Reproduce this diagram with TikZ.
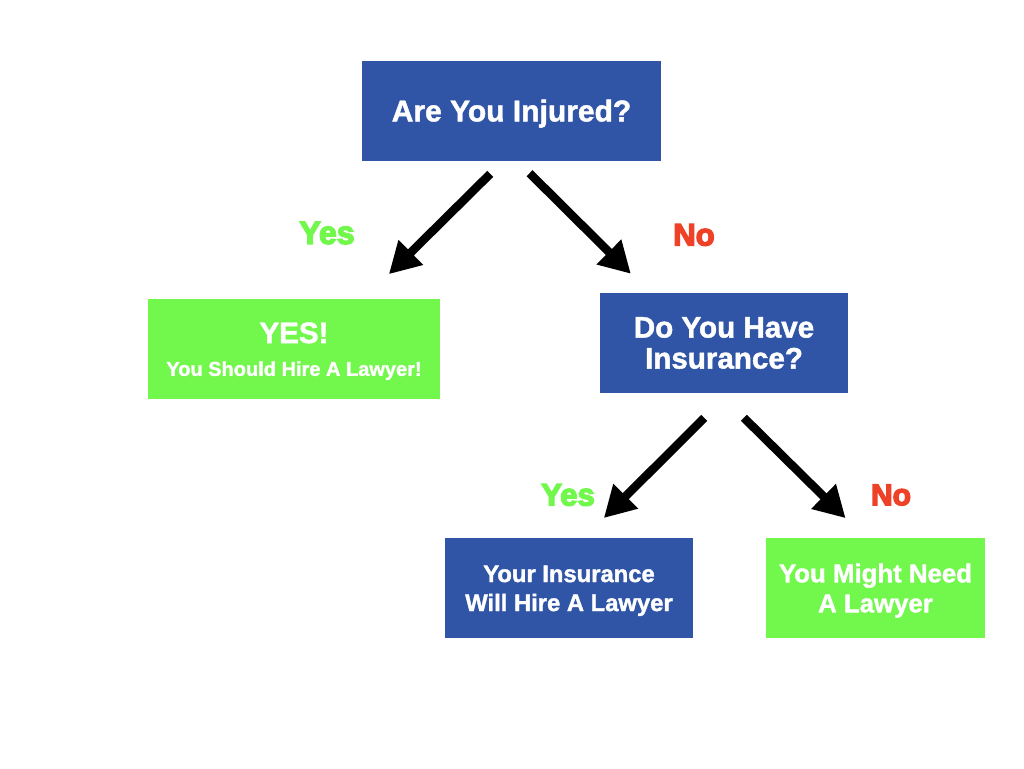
\documentclass[tikz,border=0pt]{standalone}
\usepackage{fontspec}
\setmainfont{Liberation Sans}
\newfontfamily\boxfont[FakeBold=1.5]{Liberation Sans Bold}
\newfontfamily\heavyfont[FakeBold=4.5]{Liberation Sans Bold}
\usetikzlibrary{arrows.meta}
\definecolor{askblue}{HTML}{3155A6}
\definecolor{hiregreen}{HTML}{72F74C}
\definecolor{nored}{HTML}{EE4128}
\tikzset{
  askbox/.style={rectangle,fill=askblue,text=white,align=center,inner sep=0pt},
  hirebox/.style={rectangle,fill=hiregreen,text=white,align=center,inner sep=0pt},
  yeslabel/.style={text=hiregreen,inner sep=0pt},
  nolabel/.style={text=nored,inner sep=0pt},
  flow/.style={line width=8.5pt,-{Triangle[length=31pt,width=33pt]},black}
}
\begin{document}
\begin{tikzpicture}[x=1pt,y=-1pt]

    \useasboundingbox (0,0) rectangle (1024,768);

    %%%%%%%%%%%%%%%%%%%%%%%%%%%%%%%%%%%%%%%%%%%%%%%%%%%%%%

    % first question
    \node[askbox,minimum width=299pt,minimum height=100pt,font=\boxfont\fontsize{30}{31}\selectfont] (injured) at (511.5,111) {\rule{0pt}{27pt}Are You Injured?};

    % first answers
    \node[hirebox,minimum width=292pt,minimum height=100pt] (hire) at (294,349) {{\boxfont\fontsize{29.5}{31}\selectfont\rule{0pt}{25pt}YES!}\\[17pt]{\boxfont\fontsize{20}{22}\selectfont You Should Hire A Lawyer!}};
    \node[askbox,minimum width=248pt,minimum height=100pt,font=\boxfont\fontsize{29.6}{31}\selectfont] (insurance) at (724,343) {Do You Have\\Insurance?};

    %%%%%%%%%%%%%%%%%%%%%%%%%%%%%%%%%%%%%%%%%%%%%%%%%%%%%%

    % second answers
    \node[askbox,minimum width=248pt,minimum height=100pt,font=\boxfont\fontsize{23.8}{29}\selectfont] (covered) at (569,588) {\rule{0pt}{22pt}Your Insurance\hspace{4pt}\\Will Hire A Lawyer\hspace{4pt}};
    \node[hirebox,minimum width=219pt,minimum height=100pt,font=\boxfont\fontsize{25.8}{30}\selectfont] (might) at (875.5,588) {\rule{0pt}{24pt}You Might Need\\A Lawyer};

    %%%%%%%%%%%%%%%%%%%%%%%%%%%%%%%%%%%%%%%%%%%%%%%%%%%%%%

    % arrows
    \draw[flow,shorten <=18pt,shorten >=35pt] ([xshift=-8.5pt]injured.south) -- ([xshift=70pt]hire.north);
    \draw[flow,shorten <=17pt,shorten >=27pt] ([xshift=6pt]injured.south) -- ([xshift=-74pt]insurance.north);
    \draw[flow,shorten <=35pt,shorten >=28pt] ([xshift=5pt]insurance.south) -- ([xshift=15pt]covered.north);
    \draw[flow,shorten <=35pt,shorten >=28pt] ([xshift=-5pt]insurance.south) -- ([xshift=-10pt]might.north);

    %%%%%%%%%%%%%%%%%%%%%%%%%%%%%%%%%%%%%%%%%%%%%%%%%%%%%%

    % labels
    \node[yeslabel,font=\heavyfont\fontsize{32}{32}\selectfont] (yesfirst) at (327,233) {Yes};
    \node[nolabel,font=\heavyfont\fontsize{31}{32}\selectfont] (nofirst) at (694,235) {No};
    \node[yeslabel,font=\heavyfont\fontsize{31}{30}\selectfont] (yessecond) at (568,495) {Yes};
    \node[nolabel,font=\heavyfont\fontsize{30}{30}\selectfont] (nosecond) at (891,495) {No};

\end{tikzpicture}
\end{document}
